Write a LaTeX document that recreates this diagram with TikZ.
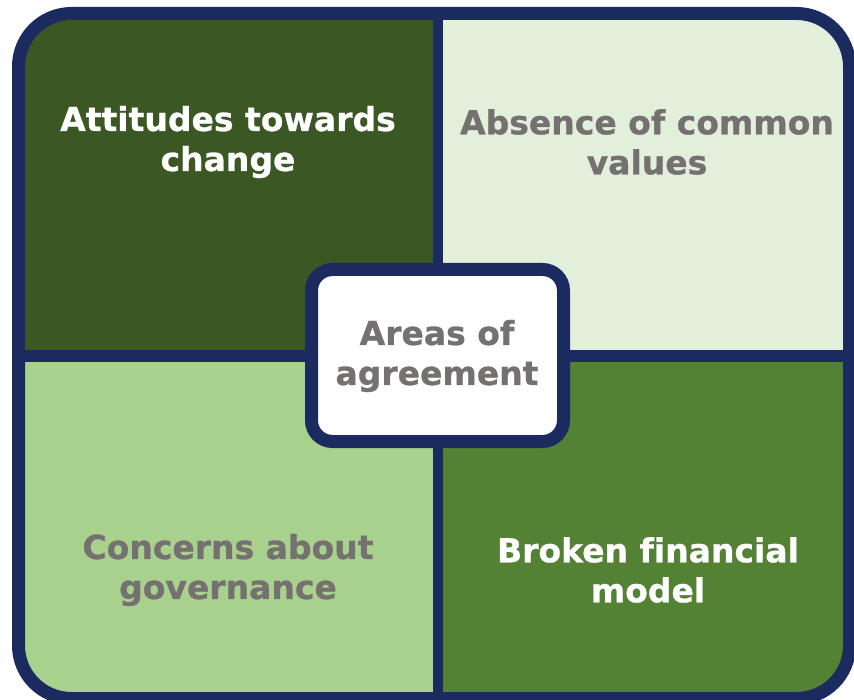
\documentclass[tikz,border=0pt]{standalone}
\usepackage{fontspec}
\setmainfont{DejaVu Sans}[Ligatures=NoCommon, BoldFeatures={FakeBold=0.8}]
\usetikzlibrary{positioning}

\definecolor{navy}{HTML}{1C2B5F}
\definecolor{darkgreen}{HTML}{3B5724}
\definecolor{palegreen}{HTML}{E2EFDA}
\definecolor{lightgreen}{HTML}{A9D18E}
\definecolor{midgreen}{HTML}{548235}
\definecolor{greytext}{HTML}{767171}

\tikzset{
  label text/.style={font=\fontsize{33}{40}\selectfont\bfseries, align=center},
  white text/.style={label text, text=white},
  grey text/.style={label text, text=greytext},
}

\begin{document}
\begin{tikzpicture}[x=1pt, y=-1pt]
\useasboundingbox (0, 0) rectangle (854, 700);

% quadrants
\begin{scope}
\clip [rounded corners=53pt] (18.5, 13.5) rectangle (849.5, 698.5);
\fill [darkgreen] (0, 0) rectangle (438, 356);
\fill [palegreen] (438, 0) rectangle (854, 356);
\fill [lightgreen] (0, 356) rectangle (438, 700);
\fill [midgreen] (438, 356) rectangle (854, 700);
\end{scope}

% dividers and frame
\draw [navy, line width=10pt] (438, 13.5) -- (438, 698.5);
\draw [navy, line width=12pt] (18.5, 356) -- (849.5, 356);
\draw [navy, line width=13pt, rounded corners=53pt] (18.5, 13.5) rectangle (849.5, 698.5);

\node [white text] (change) at (228, 142) {Attitudes towards\\change};
\node [grey text] (values) at (647, 142) {Absence of common\\values};
\node [grey text] (governance) at (228, 570) {Concerns about\\governance};
\node [white text] (model) at (648, 570) {Broken financial\\model};

% centre box
\draw [navy, line width=13pt, fill=white, rounded corners=21pt] (311.5, 269.5) rectangle (563.5, 441.5);
\node [grey text] (agreement) at (437, 356) {Areas of\\agreement};
\end{tikzpicture}
\end{document}
